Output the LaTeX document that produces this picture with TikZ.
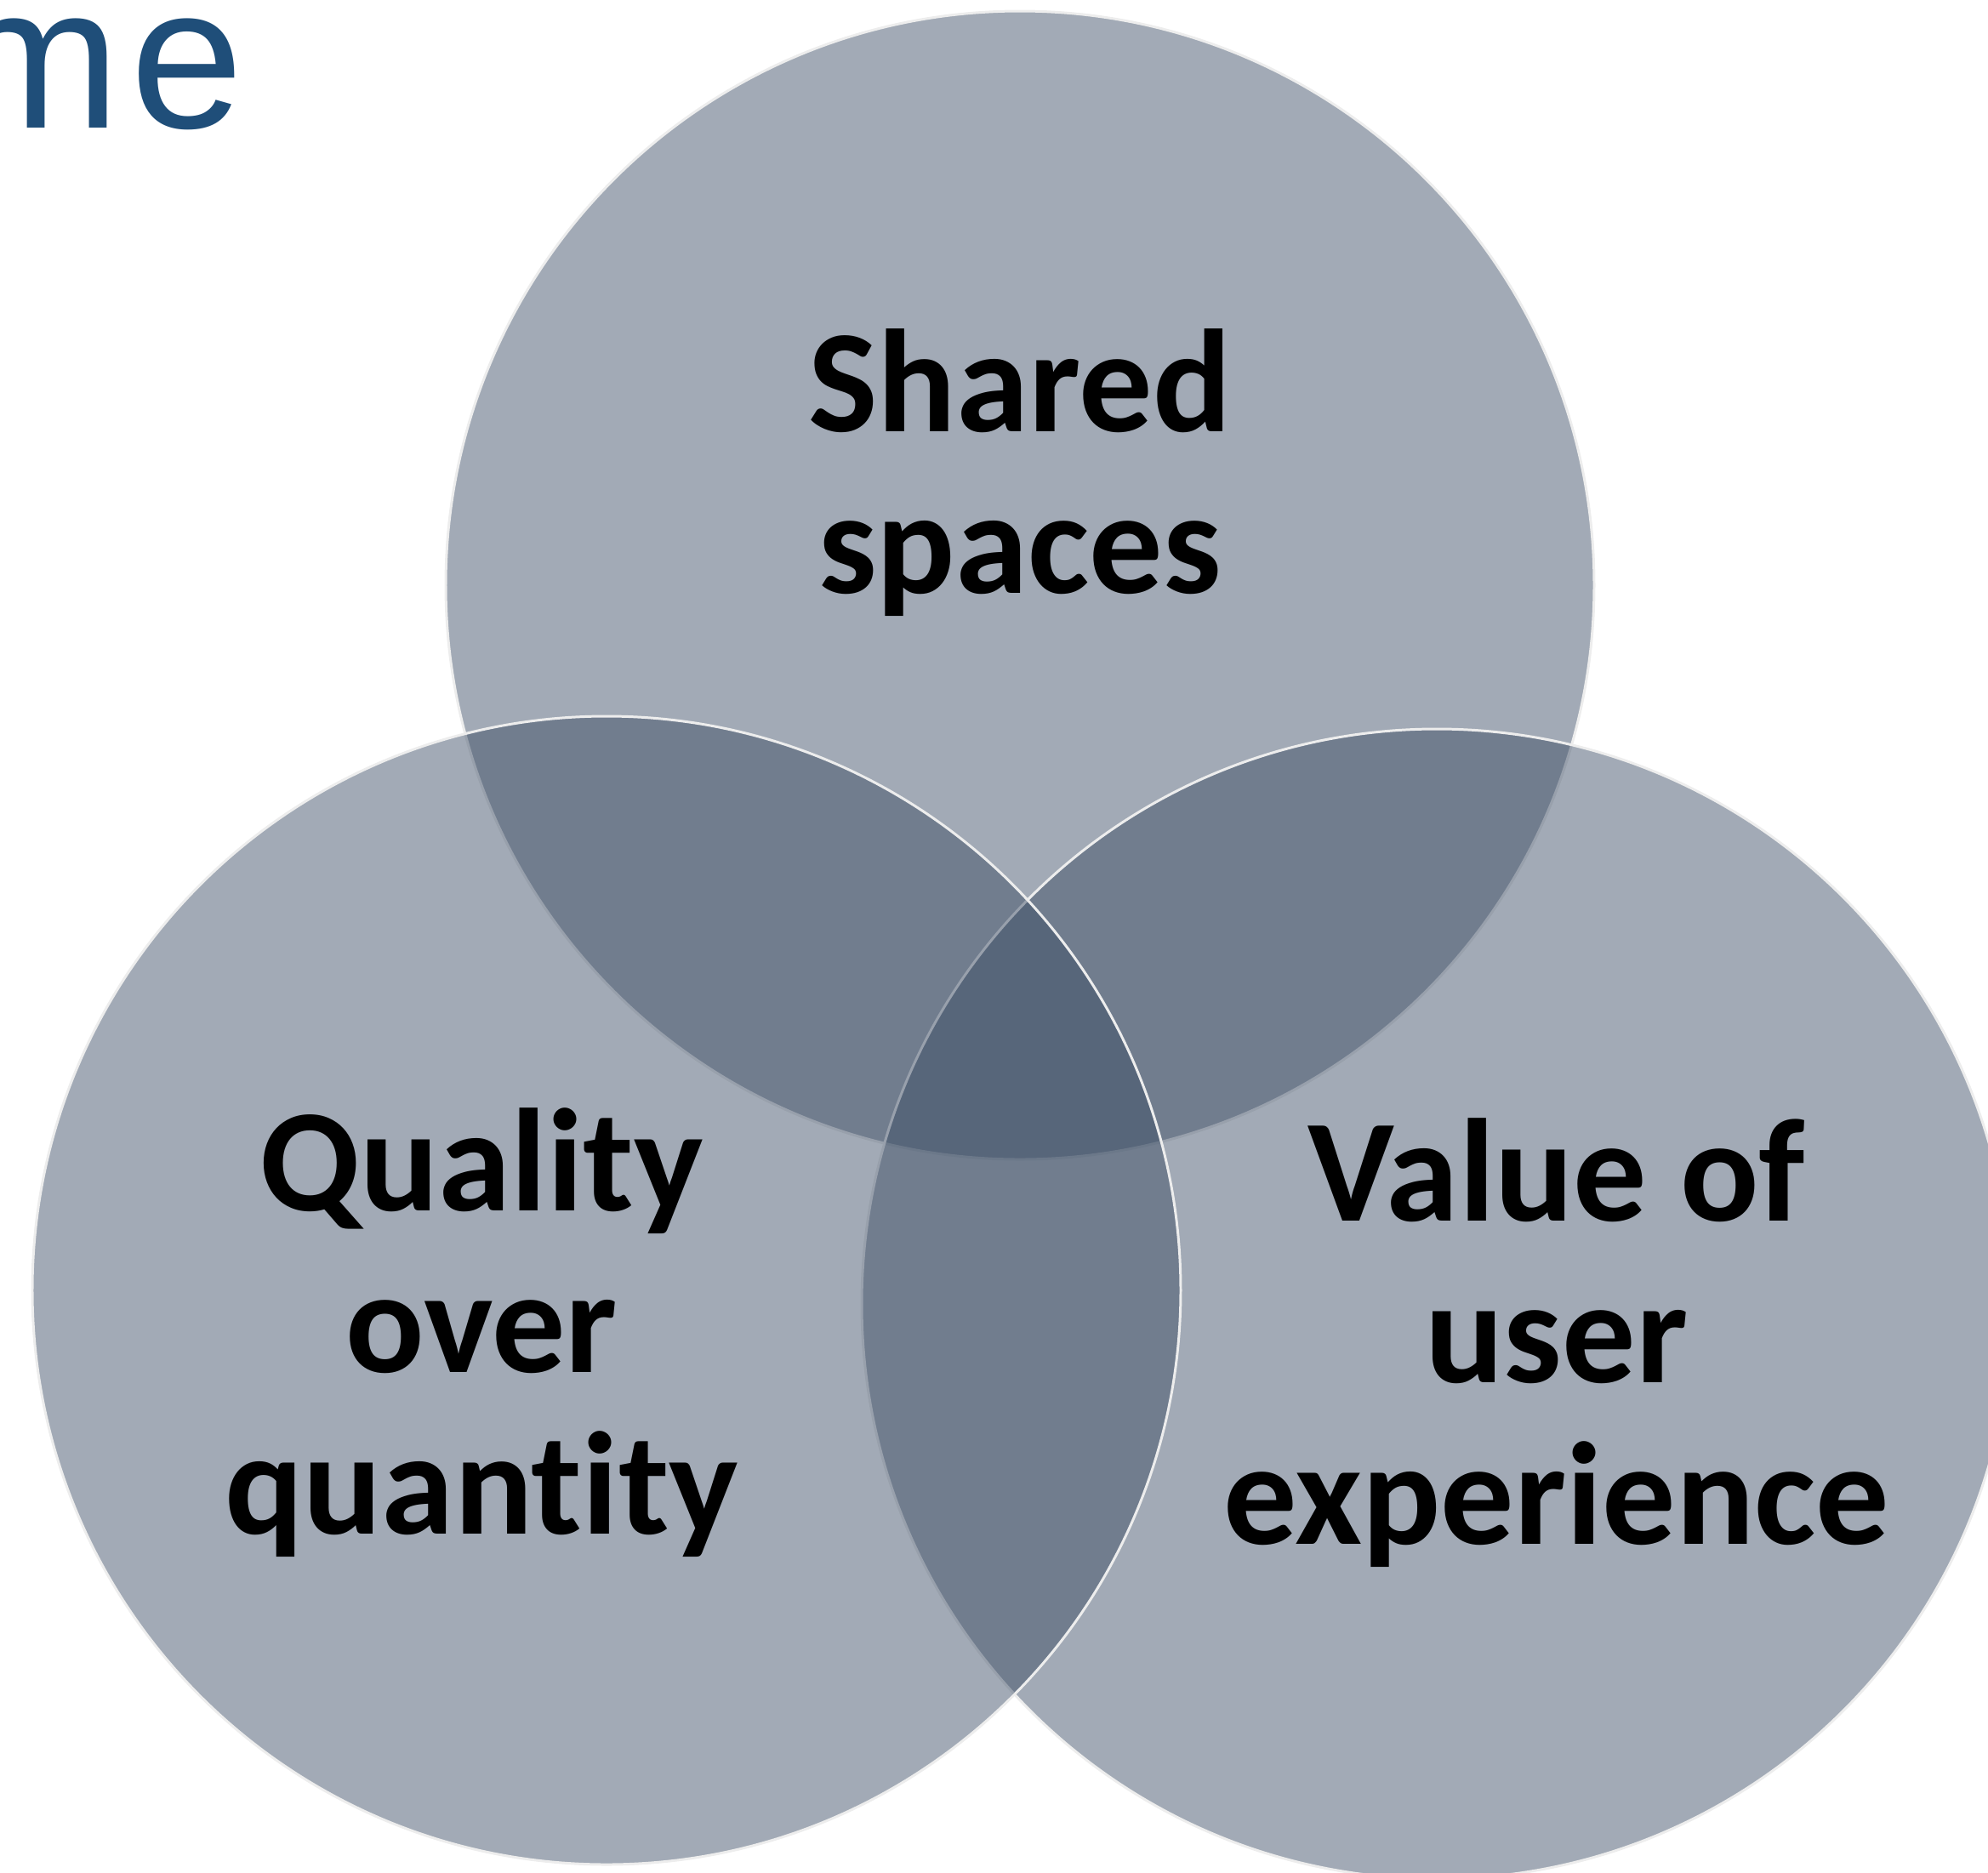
\documentclass[tikz,border=0pt]{standalone}
\usepackage{fontspec}
\setmainfont{Carlito}[Ligatures=NoCommon]
\newfontfamily\titlefont{Liberation Sans}
\definecolor{venngray}{RGB}{58,75,99}
\definecolor{titleblue}{RGB}{31,78,121}
\begin{document}
\begin{tikzpicture}[
	venn/.style={fill=venngray, fill opacity=0.47, draw=black!7, line width=0.85pt},
	vennlabel/.style={font=\bfseries\fontsize{49}{54}\selectfont, align=center, anchor=base, inner sep=0pt}
]
	\useasboundingbox (0,0) rectangle (23.37,-22.01);
	\clip (0,0) rectangle (23.37,-22.01);
	% circles, drawn top, right, left
	\draw[venn] (11.99,-6.88) circle (6.75);
	\draw[venn] (16.89,-15.33) circle (6.76);
	\draw[venn] (7.13,-15.17) circle (6.75);
	\node[anchor=base east, inner sep=0pt, text=titleblue, font=\titlefont\fontsize{68}{80}\selectfont] (title) at (2.87,-1.50) {m\kern0.05em e};
	% labels sit on the baseline of their last line
	\node[vennlabel] (shared) at (11.99,-6.97) {Shared\\spaces};
	\node[vennlabel] (quality) at (5.66,-18.03) {Quality\\over\\quantity};
	\node[vennlabel] (value) at (18.30,-18.15) {Value of\\user\\experience};
\end{tikzpicture}
\end{document}
